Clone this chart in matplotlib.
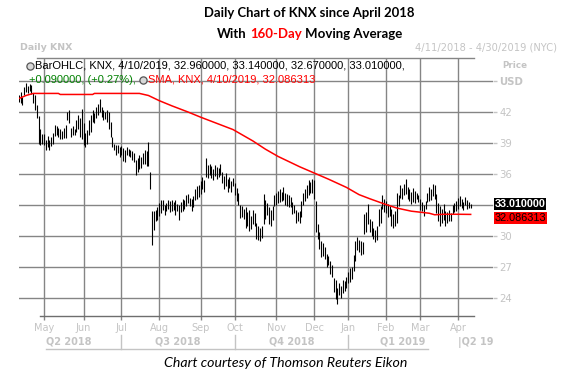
import matplotlib
matplotlib.use('Agg')
import matplotlib.pyplot as plt
import matplotlib.transforms as mtransforms
from matplotlib.lines import Line2D
import pandas as pd

# ---------------- data ----------------
ticker = "KNX"
holidays = ['2018-05-28', '2018-07-04', '2018-09-03', '2018-11-22', '2018-12-05',
            '2018-12-25', '2019-01-01', '2019-01-21', '2019-02-18', '2019-04-19']

highs = [43.6, 43.9, 43.5, 44.4, 44.8, 44.5, 44.7, 44.6, 43.8, 43.6, 42.7, 41.6, 40.4, 39.9,
         39.9, 39.3, 39.7, 39.3, 39.6, 40.0, 40.7, 40.6, 40.5, 40.4, 40.2, 40.5, 40.7, 42.0, 42.2, 40.5, 40.6, 40.4, 41.2, 41.7, 41.4, 42.3,
         40.9, 40.0, 40.3, 41.2, 41.7, 42.2, 41.9, 42.5, 42.8, 43.3, 42.5, 42.2, 42.0, 42.2, 42.0, 41.0, 39.6, 38.9, 38.8, 38.8, 38.6,
         38.7, 38.5, 38.3, 38.6, 38.4, 38.3, 38.2, 38.0, 37.4, 37.5, 37.8, 37.6, 38.0, 38.3, 38.2, 39.1, 36.2, 32.4, 32.4, 32.5, 32.8,
         33.2, 33.5, 33.5, 33.0, 33.2, 33.5, 33.4, 33.5, 33.3, 33.5, 33.1, 33.0, 33.3, 33.6, 33.5, 34.0, 34.1, 33.7, 33.6, 33.9, 34.5, 34.8, 34.9,
         35.3, 35.7, 35.4, 37.5, 36.9, 37.0, 36.8, 36.5, 36.9, 36.7, 36.6, 37.0, 36.2, 35.8, 36.1, 35.5, 35.7, 35.3, 35.6,
         35.1, 34.6, 34.2, 33.0, 32.9, 32.6, 32.8, 32.3, 32.5, 31.9, 32.5, 32.2, 31.3, 31.0, 30.8, 31.0, 34.1, 33.5, 33.2, 32.8, 32.5, 32.9, 34.0,
         34.2, 34.4, 34.5, 34.3, 34.7, 34.2, 34.1, 34.0, 33.8, 33.3, 33.0, 32.5, 32.3, 32.4, 33.4, 34.2, 34.5, 34.9, 35.4, 35.2, 35.5,
         35.4, 33.4, 31.2, 30.4, 29.5, 29.3, 28.9, 28.3, 28.1, 27.6, 27.2, 25.9, 25.7, 25.0, 25.4, 25.2, 25.7, 25.6, 26.0,
         26.5, 26.9, 27.0, 28.2, 29.5, 29.9, 29.6, 29.5, 29.4, 32.1, 32.3, 33.1, 31.6, 31.4, 30.8, 30.6, 31.0, 32.6, 32.9, 34.0, 33.6,
         33.4, 33.1, 32.9, 32.6, 32.1, 32.4, 34.2, 34.0, 34.9, 34.6, 35.0, 35.5, 34.7, 34.5, 34.3, 34.6, 34.4, 34.2, 34.0,
         33.6, 33.3, 33.0, 33.4, 34.2, 34.7, 34.5, 35.0, 34.9, 34.1, 33.2, 32.9, 32.6, 33.1, 32.4, 32.3, 32.5, 32.2, 33.0, 33.2, 33.4,
         33.7, 33.9, 33.6, 33.3, 33.8, 33.5, 33.3, 33.14]

lows = [43.0, 42.9, 42.7, 43.6, 43.9, 43.8, 44.0, 43.7, 42.9, 42.2, 41.4, 38.9, 38.8, 38.9,
        38.8, 38.3, 38.6, 38.3, 38.7, 38.9, 39.7, 39.8, 39.6, 39.4, 39.4, 39.5, 39.5, 41.2, 40.9, 39.6, 39.8, 39.8, 40.1, 40.4, 39.6, 39.4,
        38.8, 38.6, 38.9, 39.8, 40.1, 41.0, 40.9, 41.4, 41.7, 42.0, 41.5, 41.2, 41.3, 41.0, 40.4, 39.6, 38.6, 38.3, 37.8, 38.0, 37.6,
        37.8, 37.3, 37.2, 37.8, 37.7, 37.6, 37.4, 37.2, 35.9, 36.2, 36.5, 36.6, 37.0, 37.0, 36.8, 36.8, 34.5, 29.1, 30.6, 31.4, 31.5,
        31.9, 32.2, 32.5, 32.0, 32.4, 32.6, 32.3, 32.4, 32.5, 32.0, 32.4, 31.5, 32.3, 32.4, 32.6, 32.9, 33.2, 32.9, 32.4, 32.8, 33.5, 33.6, 33.8,
        34.1, 34.5, 34.3, 35.7, 35.6, 35.9, 35.6, 35.4, 35.8, 35.5, 35.7, 35.9, 35.1, 34.5, 34.8, 34.3, 34.6, 34.3, 34.8,
        34.0, 33.4, 33.0, 31.7, 31.8, 31.6, 30.8, 31.0, 30.5, 30.7, 31.2, 31.0, 29.7, 29.6, 29.5, 29.8, 31.2, 31.6, 32.0, 31.2, 31.0, 31.5, 32.9,
        33.0, 33.2, 33.3, 33.4, 33.5, 33.0, 32.9, 32.8, 32.8, 32.1, 32.2, 31.3, 31.4, 31.3, 31.8, 33.0, 33.4, 33.7, 34.0, 34.2, 34.2,
        33.6, 30.4, 29.7, 28.7, 28.0, 28.1, 27.8, 27.0, 27.2, 26.3, 26.0, 24.6, 23.9, 23.4, 24.3, 24.0, 24.5, 24.7, 25.0,
        25.4, 25.5, 25.8, 26.6, 27.6, 28.6, 28.4, 28.2, 28.3, 30.2, 30.4, 31.2, 30.4, 30.0, 29.7, 29.4, 29.6, 31.0, 31.3, 32.6, 32.3,
        32.2, 31.8, 31.9, 31.0, 30.8, 31.0, 31.3, 32.9, 33.7, 33.6, 34.0, 34.1, 33.6, 33.4, 33.1, 33.3, 33.2, 33.6, 33.3,
        32.5, 32.4, 31.9, 32.6, 33.3, 33.4, 33.5, 33.9, 33.6, 32.2, 31.4, 31.0, 31.3, 31.5, 31.0, 31.3, 31.4, 31.4, 32.1, 32.3, 32.4,
        32.6, 32.9, 32.7, 32.5, 33.0, 32.6, 32.7, 32.67]

# 160-day SMA (bar index, value)
sma_idx = [0, 4, 8, 22, 23, 41, 42, 67, 72, 78, 85, 94, 101, 110, 119, 130, 137, 144, 150,
           156, 164, 172, 182, 189, 195, 203, 210, 218, 223, 228, 231, 236, 244, 251]
sma_val = [43.3, 43.6, 43.8, 43.8, 43.7, 43.7, 43.8, 43.8, 43.6, 43.1, 42.6, 42.0, 41.5, 40.9,
           40.3, 39.2, 38.4, 37.7, 37.2, 36.7, 36.1, 35.5, 34.7, 34.0, 33.6, 33.1, 32.7, 32.4,
           32.3, 32.2, 32.05, 32.1, 32.1, 32.086313]

last_open, last_high, last_low, last_close = 32.96, 33.14, 32.67, 33.01
change, change_pct = 0.09, 0.27
sma_last = 32.086313

yticks = [24, 27, 30, 33, 36, 39, 42, 45]
ytick_labels = ['24', '27', '30', '', '36', '39', '42', 'USD']  # 33 is hidden behind the value box
month_labels = ['May', 'Jun', 'Jul', 'Aug', 'Sep', 'Oct', 'Nov', 'Dec', 'Jan', 'Feb', 'Mar', 'Apr']
quarter_labels = ['Q2 2018', 'Q3 2018', 'Q4 2018', 'Q1 2019']

# trading calendar
dates = pd.bdate_range('2018-04-11', '2019-04-30')
dates = dates[~dates.isin(pd.to_datetime(holidays))]
idx = list(range(len(highs)))
periods = dates.to_period('M')
month_pos = []
for m in pd.period_range('2018-05', '2019-04', freq='M'):
    month_pos.append(int((periods == m).argmax()))
x_end = len(dates) - 1  # 4/30/2019

# ---------------- figure ----------------
W, H = 563, 373
fig = plt.figure(figsize=(W / 100, H / 100), dpi=100)
fig.patch.set_facecolor('white')
ax = fig.add_axes([19 / W, 1 - 316 / H, 474 / W, 258 / H])
ax.set_facecolor('white')

GRID = '#858585'
LIGHT = '#c4c4c4'

ax.set_xlim(0.1, x_end - 0.6)
ax.set_ylim(22.25, 47.23)

for v in yticks:
    ax.axhline(v, color=GRID, lw=1.0, zorder=0)
for m in month_pos:
    ax.axvline(m, color=GRID, lw=1.0, zorder=0)

ax.vlines(idx, lows, highs, color='black', lw=0.8, zorder=3)
ax.plot(sma_idx, sma_val, color='#ff0000', lw=1.1, zorder=4)

for s in ax.spines.values():
    s.set_visible(False)
ax.plot([0.038, 0.96], [1, 1], transform=ax.transAxes, color=GRID, lw=1.0, clip_on=False)
ax.plot([0.045, 0.96], [0, 0], transform=ax.transAxes, color='#6e6e6e', lw=1.0, clip_on=False)

ax.set_xticks(month_pos)
ax.set_xticklabels(month_labels, family='DejaVu Sans')
ax.tick_params(axis='x', length=3, width=1, color=GRID, labelcolor=LIGHT, labelsize=7, pad=2)

ax.yaxis.tick_right()
ax.set_yticks(yticks)
ax.set_yticklabels(ytick_labels, family='DejaVu Sans')
ax.tick_params(axis='y', length=3, width=1, color=LIGHT, labelcolor=LIGHT, labelsize=7.3, pad=1.5)
for lab in ax.get_yticklabels():
    if lab.get_text() == 'USD':
        lab.set_fontweight('bold')

# last value boxes
blend_y = mtransforms.blended_transform_factory(ax.transAxes, ax.transData)
ax.annotate(f'{sma_last:.6f}', xy=(1.0, sma_last), xycoords=blend_y, xytext=(1, -2.6),
            textcoords='offset points', ha='left', va='center', color='black',
            family='Liberation Sans', fontsize=7.8, zorder=6, annotation_clip=False,
            bbox=dict(boxstyle='square,pad=0.05', fc='#ff0000', ec='none'))
ax.annotate(f'{last_close:.6f}', xy=(1.0, last_close), xycoords=blend_y, xytext=(1, 0.6),
            textcoords='offset points', ha='left', va='center', color='white',
            family='Liberation Sans', fontweight='bold', fontsize=7.8, zorder=7,
            annotation_clip=False,
            bbox=dict(boxstyle='square,pad=0.05', fc='black', ec='none'))

# ---------------- text helpers ----------------
renderer = fig.canvas.get_renderer()
ICON_W = 9  # pixels taken by the clock icon


def tw(s, **kw):
    t = fig.text(0, 0, s, **kw)
    w = t.get_window_extent(renderer).width
    t.remove()
    return w


def seq_width(pieces, kw):
    sp = tw('x x', **kw) - tw('xx', **kw)
    w = 0
    for s, c in pieces:
        w += sp if s == ' ' else (ICON_W if s == 'ICON' else tw(s, **kw))
    return w


def seq_text(x, y, pieces, kw):
    sp = tw('x x', **kw) - tw('xx', **kw)
    for s, c in pieces:
        if s == ' ':
            x += sp
            continue
        if s == 'ICON':
            fig.add_artist(Line2D([(x + ICON_W / 2 - 0.5) / W], [1 - y / H], marker='o',
                                  markersize=5.2, mfc='#d8d8d8', mec='#555555', mew=0.9,
                                  transform=fig.transFigure))
            x += ICON_W
            continue
        t = fig.text(x / W, 1 - y / H, s, color=c, ha='left', va='center', **kw)
        x += t.get_window_extent(renderer).width
    return x


def fitted(pieces, width, base_kw):
    kw = dict(base_kw, fontsize=10)
    w = seq_width(pieces, kw)
    return dict(base_kw, fontsize=10 * width / w)


# titles
t1 = [("Daily Chart of KNX since April 2018", 'black')]
kw1 = fitted(t1, 211, dict(family='Lato', fontweight='bold'))
seq_text(310 - 211 / 2, 13, t1, kw1)

t2 = [("With", 'black'), (' ', None), ("160-Day", '#ff0000'), (' ', None),
      ("Moving Average", 'black')]
kw2 = fitted(t2, 186, dict(family='Lato', fontweight='bold'))
seq_text(310 - 186 / 2, 34, t2, kw2)

# header
kwh = fitted([("Daily KNX", LIGHT)], 52, dict(family='DejaVu Sans', fontweight='bold'))
seq_text(20, 48, [("Daily KNX", LIGHT)], kwh)
kwd = fitted([("4/11/2018 - 4/30/2019 (NYC)", LIGHT)], 141, dict(family='DejaVu Sans'))
seq_text(415, 48, [("4/11/2018 - 4/30/2019 (NYC)", LIGHT)], kwd)
kwp = fitted([("Price", LIGHT)], 25, dict(family='DejaVu Sans', fontweight='bold'))
seq_text(502, 65, [("Price", LIGHT)], kwp)

# legend lines
l1 = [('ICON', None), (f"BarOHLC, {ticker}, 4/10/2019, {last_open:.6f}, {last_high:.6f}, "
                       f"{last_low:.6f}, {last_close:.6f},", 'black')]
kwl = fitted(l1[1:], 372, dict(family='Liberation Sans'))
seq_text(26, 66, l1, kwl)
l2 = [(f"+{change:.6f}, (+{change_pct:.2f}%),", '#008000'), (' ', None), ('ICON', None),
      (f"SMA, {ticker}, 4/10/2019, {sma_last:.6f}", '#ff0000')]
seq_text(29, 80, l2, kwl)

# quarter bar
blend_fx = mtransforms.blended_transform_factory(ax.transData, fig.transFigure)
blend_ax = mtransforms.blended_transform_factory(ax.transAxes, fig.transFigure)
q_pos = [28, (month_pos[2] + month_pos[5]) / 2, (month_pos[5] + month_pos[8]) / 2,
         (month_pos[8] + month_pos[11]) / 2]
for q, p in zip(quarter_labels, q_pos):
    ax.text(p, 1 - 342 / H, q, transform=blend_fx, ha='center', va='center', color=LIGHT,
            fontsize=7, fontweight='bold', family='DejaVu Sans', clip_on=False)
ax.text(month_pos[11], 1 - 342 / H, '|Q2 19', transform=blend_fx, ha='left', va='center',
        color=LIGHT, fontsize=7, fontweight='bold', family='DejaVu Sans', clip_on=False)
for m in (month_pos[2], month_pos[5], month_pos[8]):
    ax.plot([m, m], [1 - 335 / H, 1 - 349 / H], transform=blend_fx, color=LIGHT, lw=1.0,
            clip_on=False)
ax.plot([0.057, 0.863], [1 - 349 / H, 1 - 349 / H], transform=blend_ax, color=LIGHT, lw=1.0,
        clip_on=False)

# courtesy
tc = [("Chart courtesy of Thomson Reuters Eikon", 'black')]
kwc = fitted(tc, 244, dict(family='Lato', fontstyle='italic'))
seq_text(286 - 122, 363, tc, kwc)

fig.savefig('out.png', dpi=100, facecolor='white')
